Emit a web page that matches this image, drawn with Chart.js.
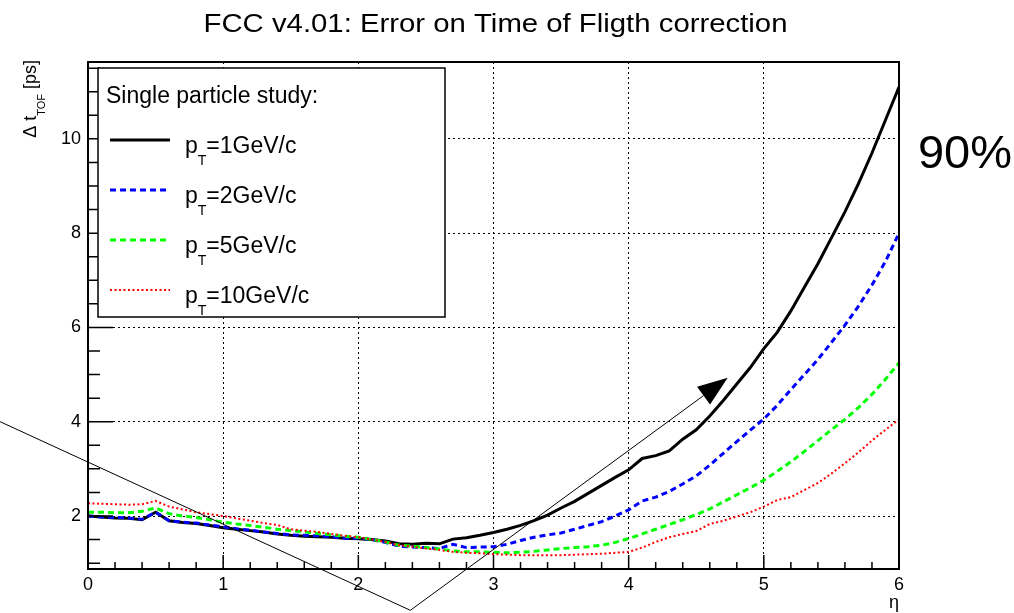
<!DOCTYPE html>
<html>
<head>
<meta charset="utf-8">
<script src="https://cdn.jsdelivr.net/npm/chart.js@4.4.1/dist/chart.umd.min.js"></script>
<style>
  html, body { margin: 0; padding: 0; background: #fff; }
  #wrap { width: 1014px; height: 613px; position: relative; }
</style>
</head>
<body>
<div id="wrap"><canvas id="tof"></canvas></div>
<script>
// eta bins (x axis)
const eta = [0.0,0.1,0.2,0.3,0.4,0.5,0.6,0.7,0.8,0.9,
             1.0,1.1,1.2,1.3,1.4,1.5,1.6,1.7,1.8,1.9,
             2.0,2.1,2.2,2.3,2.4,2.5,2.6,2.7,2.8,2.9,
             3.0,3.1,3.2,3.3,3.4,3.5,3.6,3.7,3.8,3.9,
             4.0,4.1,4.2,4.3,4.4,4.5,4.6,4.7,4.8,4.9,
             5.0,5.1,5.2,5.3,5.4,5.5,5.6,5.7,5.8,5.9,
             6.0];

// delta t_TOF [ps]
const dtPt1 = [2.00,1.98,1.96,1.95,1.92,2.08,1.90,1.86,1.84,1.80,
               1.75,1.72,1.69,1.66,1.62,1.59,1.57,1.56,1.55,1.53,
               1.52,1.50,1.47,1.41,1.40,1.42,1.41,1.51,1.54,1.59,
               1.65,1.72,1.80,1.90,2.02,2.17,2.31,2.48,2.65,2.82,
               2.98,3.22,3.28,3.38,3.63,3.83,4.12,4.45,4.80,5.15,
               5.55,5.90,6.35,6.85,7.35,7.90,8.45,9.05,9.70,10.40,
               11.10];
const dtPt2 = [2.00,1.98,1.97,1.96,1.93,2.08,1.90,1.87,1.85,1.81,
               1.77,1.73,1.70,1.66,1.63,1.60,1.59,1.58,1.56,1.53,
               1.53,1.50,1.44,1.36,1.34,1.33,1.31,1.40,1.33,1.34,
               1.35,1.40,1.48,1.55,1.60,1.64,1.72,1.80,1.88,2.00,
               2.13,2.32,2.40,2.52,2.68,2.85,3.08,3.33,3.58,3.82,
               4.06,4.35,4.68,5.00,5.32,5.68,6.05,6.45,6.90,7.40,
               8.00];
const dtPt5 = [2.08,2.08,2.07,2.07,2.10,2.17,2.05,2.00,1.97,1.92,
               1.87,1.83,1.80,1.76,1.72,1.69,1.66,1.63,1.60,1.57,
               1.55,1.50,1.45,1.38,1.36,1.33,1.30,1.26,1.24,1.24,
               1.23,1.22,1.23,1.25,1.28,1.31,1.33,1.35,1.38,1.44,
               1.52,1.62,1.72,1.82,1.92,2.03,2.15,2.30,2.45,2.60,
               2.76,2.95,3.15,3.37,3.60,3.83,4.05,4.30,4.58,4.90,
               5.25];
const dtPt10 = [2.27,2.26,2.25,2.24,2.25,2.32,2.20,2.14,2.08,2.04,
                2.00,1.95,1.90,1.85,1.81,1.72,1.69,1.66,1.62,1.58,
                1.55,1.50,1.45,1.38,1.35,1.31,1.28,1.24,1.22,1.21,
                1.19,1.18,1.17,1.17,1.17,1.17,1.18,1.19,1.20,1.22,
                1.24,1.33,1.45,1.55,1.62,1.68,1.83,1.90,1.99,2.08,
                2.20,2.34,2.40,2.55,2.70,2.90,3.12,3.35,3.60,3.83,
                4.05];

const ptValues = [1, 2, 5, 10];
const xTicks = [0, 1, 2, 3, 4, 5, 6];
const yTicks = [2, 4, 6, 8, 10];

// hand-drawn annotation (data coordinates)
const arrowPath = [[-0.65, 4.0], [2.385, 0.0], [4.733, 4.93]];
const note = { text: '90%', x: 6.14, y: 9.38 };

const FONT = '"Liberation Sans", Arial, Helvetica, sans-serif';
const series = [dtPt1, dtPt2, dtPt5, dtPt10];
const colors = ['#000000', '#0000ff', '#00ff00', '#ff0000'];
const dashes = [[], [6, 4], [6, 4], [2, 2.5]];
const widths = [3, 3, 3, 2];

// draws "p_T=..." style text, the char after '_' is a subscript
function richText(ctx, str, x, y, size) {
  let parts = [];
  let i = str.indexOf('_');
  if (i < 0) parts.push({ t: str, sub: false });
  else {
    parts.push({ t: str.slice(0, i), sub: false });
    let j = str.indexOf('{', i);
    if (j === i + 1) {
      let k = str.indexOf('}', j);
      parts.push({ t: str.slice(j + 1, k), sub: true });
      parts.push({ t: str.slice(k + 1), sub: false });
    } else {
      parts.push({ t: str.charAt(i + 1), sub: true });
      parts.push({ t: str.slice(i + 2), sub: false });
    }
  }
  let w = 0;
  parts.forEach(p => {
    ctx.font = (p.sub ? Math.round(size * 0.62) : size) + 'px ' + FONT;
    w += ctx.measureText(p.t).width;
  });
  if (x === null) return w;
  let cx = x;
  parts.forEach(p => {
    ctx.font = (p.sub ? Math.round(size * 0.62) : size) + 'px ' + FONT;
    ctx.fillText(p.t, cx, p.sub ? y + size * 0.5 : y);
    cx += ctx.measureText(p.t).width;
  });
  return w;
}

const decor = {
  id: 'decor',
  afterDatasetsDraw(chart) {
    const ctx = chart.ctx;
    const a = chart.chartArea;
    const xs = chart.scales.x, ys = chart.scales.y;
    ctx.save();
    ctx.strokeStyle = '#000';
    // tick marks (inside)
    ctx.lineWidth = 1.5;
    ctx.beginPath();
    for (let k = 0; k <= 30; k++) {
      const px = xs.getPixelForValue(k * 0.2);
      const len = (k % 5 === 0) ? 14 : 7;
      ctx.moveTo(px, a.bottom); ctx.lineTo(px, a.bottom - len);
    }
    for (let k = 2; k <= 23; k++) {
      const v = k * 0.5;
      const py = ys.getPixelForValue(v);
      const len = (v % 2 === 0) ? 25 : 12;
      ctx.moveTo(a.left, py); ctx.lineTo(a.left + len, py);
    }
    ctx.stroke();
    // frame
    ctx.lineWidth = 2;
    ctx.strokeRect(a.left, a.top, a.right - a.left, a.bottom - a.top);

    // legend box
    const lx = a.left + 10, ly = a.top + 6, lw = 347, lh = 249;
    ctx.fillStyle = '#fff';
    ctx.fillRect(lx, ly, lw, lh);
    ctx.lineWidth = 1.5;
    ctx.strokeRect(lx, ly, lw, lh);
    ctx.fillStyle = '#000';
    ctx.textAlign = 'left';
    ctx.textBaseline = 'alphabetic';
    ctx.font = '23px ' + FONT;
    ctx.fillText('Single particle study:', lx + 8, ly + 35);
    chart.data.datasets.forEach((ds, i) => {
      const yLine = ly + 72 + i * 50;
      ctx.beginPath();
      ctx.strokeStyle = ds.borderColor;
      ctx.lineWidth = ds.borderWidth;
      ctx.setLineDash(ds.borderDash);
      ctx.moveTo(lx + 12, yLine); ctx.lineTo(lx + 72, yLine);
      ctx.stroke();
      ctx.setLineDash([]);
      ctx.fillStyle = '#000';
      richText(ctx, ds.label, lx + 87, yLine + 13, 23);
    });
    ctx.restore();
  },
  afterDraw(chart) {
    const ctx = chart.ctx;
    const a = chart.chartArea;
    const xs = chart.scales.x, ys = chart.scales.y;
    ctx.save();
    ctx.fillStyle = '#000';
    // title (the original face is a bit wider than Liberation Sans)
    ctx.save();
    ctx.translate((a.left + a.right) / 2 + 2, 32);
    ctx.scale(1.15, 1);
    ctx.font = '25.5px ' + FONT;
    ctx.textAlign = 'center';
    ctx.textBaseline = 'alphabetic';
    ctx.fillText('FCC v4.01: Error on Time of Fligth correction', 0, 0);
    ctx.restore();
    // x title
    ctx.font = '18px ' + FONT;
    ctx.textAlign = 'right';
    ctx.fillText('\u03b7', a.right, 608);
    // y title, rotated, aligned to the top
    ctx.translate(36, a.top - 2);
    ctx.rotate(-Math.PI / 2);
    ctx.textAlign = 'left';
    const yt = '\u0394 t_{TOF} [ps]';
    const w = richText(ctx, yt, null, 0, 18);
    richText(ctx, yt, -w, 0, 18);
    ctx.setTransform(1, 0, 0, 1, 0, 0);
    // annotation: line with arrow and 90%
    const pts = arrowPath.map(p => [xs.getPixelForValue(p[0]), ys.getPixelForValue(p[1])]);
    const n = pts.length;
    const tip = pts[n - 1], prev = pts[n - 2];
    const dx = tip[0] - prev[0], dy = tip[1] - prev[1];
    const L = Math.hypot(dx, dy);
    const ux = dx / L, uy = dy / L;
    const hl = 30, hw = 11;
    const bx = tip[0] - ux * hl, by = tip[1] - uy * hl;
    ctx.strokeStyle = '#000';
    ctx.lineWidth = 1;
    ctx.beginPath();
    ctx.moveTo(pts[0][0], pts[0][1]);
    for (let i = 1; i < n - 1; i++) ctx.lineTo(pts[i][0], pts[i][1]);
    ctx.lineTo(bx, by);
    ctx.stroke();
    ctx.beginPath();
    ctx.moveTo(tip[0], tip[1]);
    ctx.lineTo(bx - uy * hw, by + ux * hw);
    ctx.lineTo(bx + uy * hw, by - ux * hw);
    ctx.closePath();
    ctx.fill();
    ctx.font = '47px ' + FONT;
    ctx.textAlign = 'left';
    ctx.fillText(note.text, xs.getPixelForValue(note.x), ys.getPixelForValue(note.y));
    ctx.restore();
  }
};

new Chart(document.getElementById('tof'), {
  type: 'line',
  data: {
    datasets: series.map((s, i) => ({
      label: 'p_T=' + ptValues[i] + 'GeV/c',
      data: eta.map((x, j) => ({ x: x, y: s[j] })),
      borderColor: colors[i],
      borderWidth: widths[i],
      borderDash: dashes[i],
      pointRadius: 0,
      fill: false,
      tension: 0,
      order: 4 - i
    }))
  },
  options: {
    responsive: true,
    maintainAspectRatio: false,
    animation: false,
    layout: { padding: { top: 62, right: 115, bottom: 0, left: 0 } },
    plugins: { legend: { display: false }, tooltip: { enabled: false } },
    scales: {
      x: {
        type: 'linear', min: 0, max: 6,
        afterBuildTicks: s => { s.ticks = xTicks.map(v => ({ value: v })); },
        afterFit: s => { s.height = 44; },
        ticks: { color: '#000', padding: 5, maxRotation: 0, font: { family: FONT, size: 18 } },
        grid: { color: '#000', lineWidth: 1, drawTicks: false },
        border: { display: false, dash: [2, 3] }
      },
      y: {
        type: 'linear', min: 0.876, max: 11.63,
        afterBuildTicks: s => { s.ticks = yTicks.map(v => ({ value: v })); },
        afterFit: s => { s.width = 88; },
        ticks: { color: '#000', padding: 7, font: { family: FONT, size: 18 } },
        grid: { color: '#000', lineWidth: 1, drawTicks: false },
        border: { display: false, dash: [2, 3] }
      }
    }
  },
  plugins: [decor]
});
</script>
</body>
</html>
